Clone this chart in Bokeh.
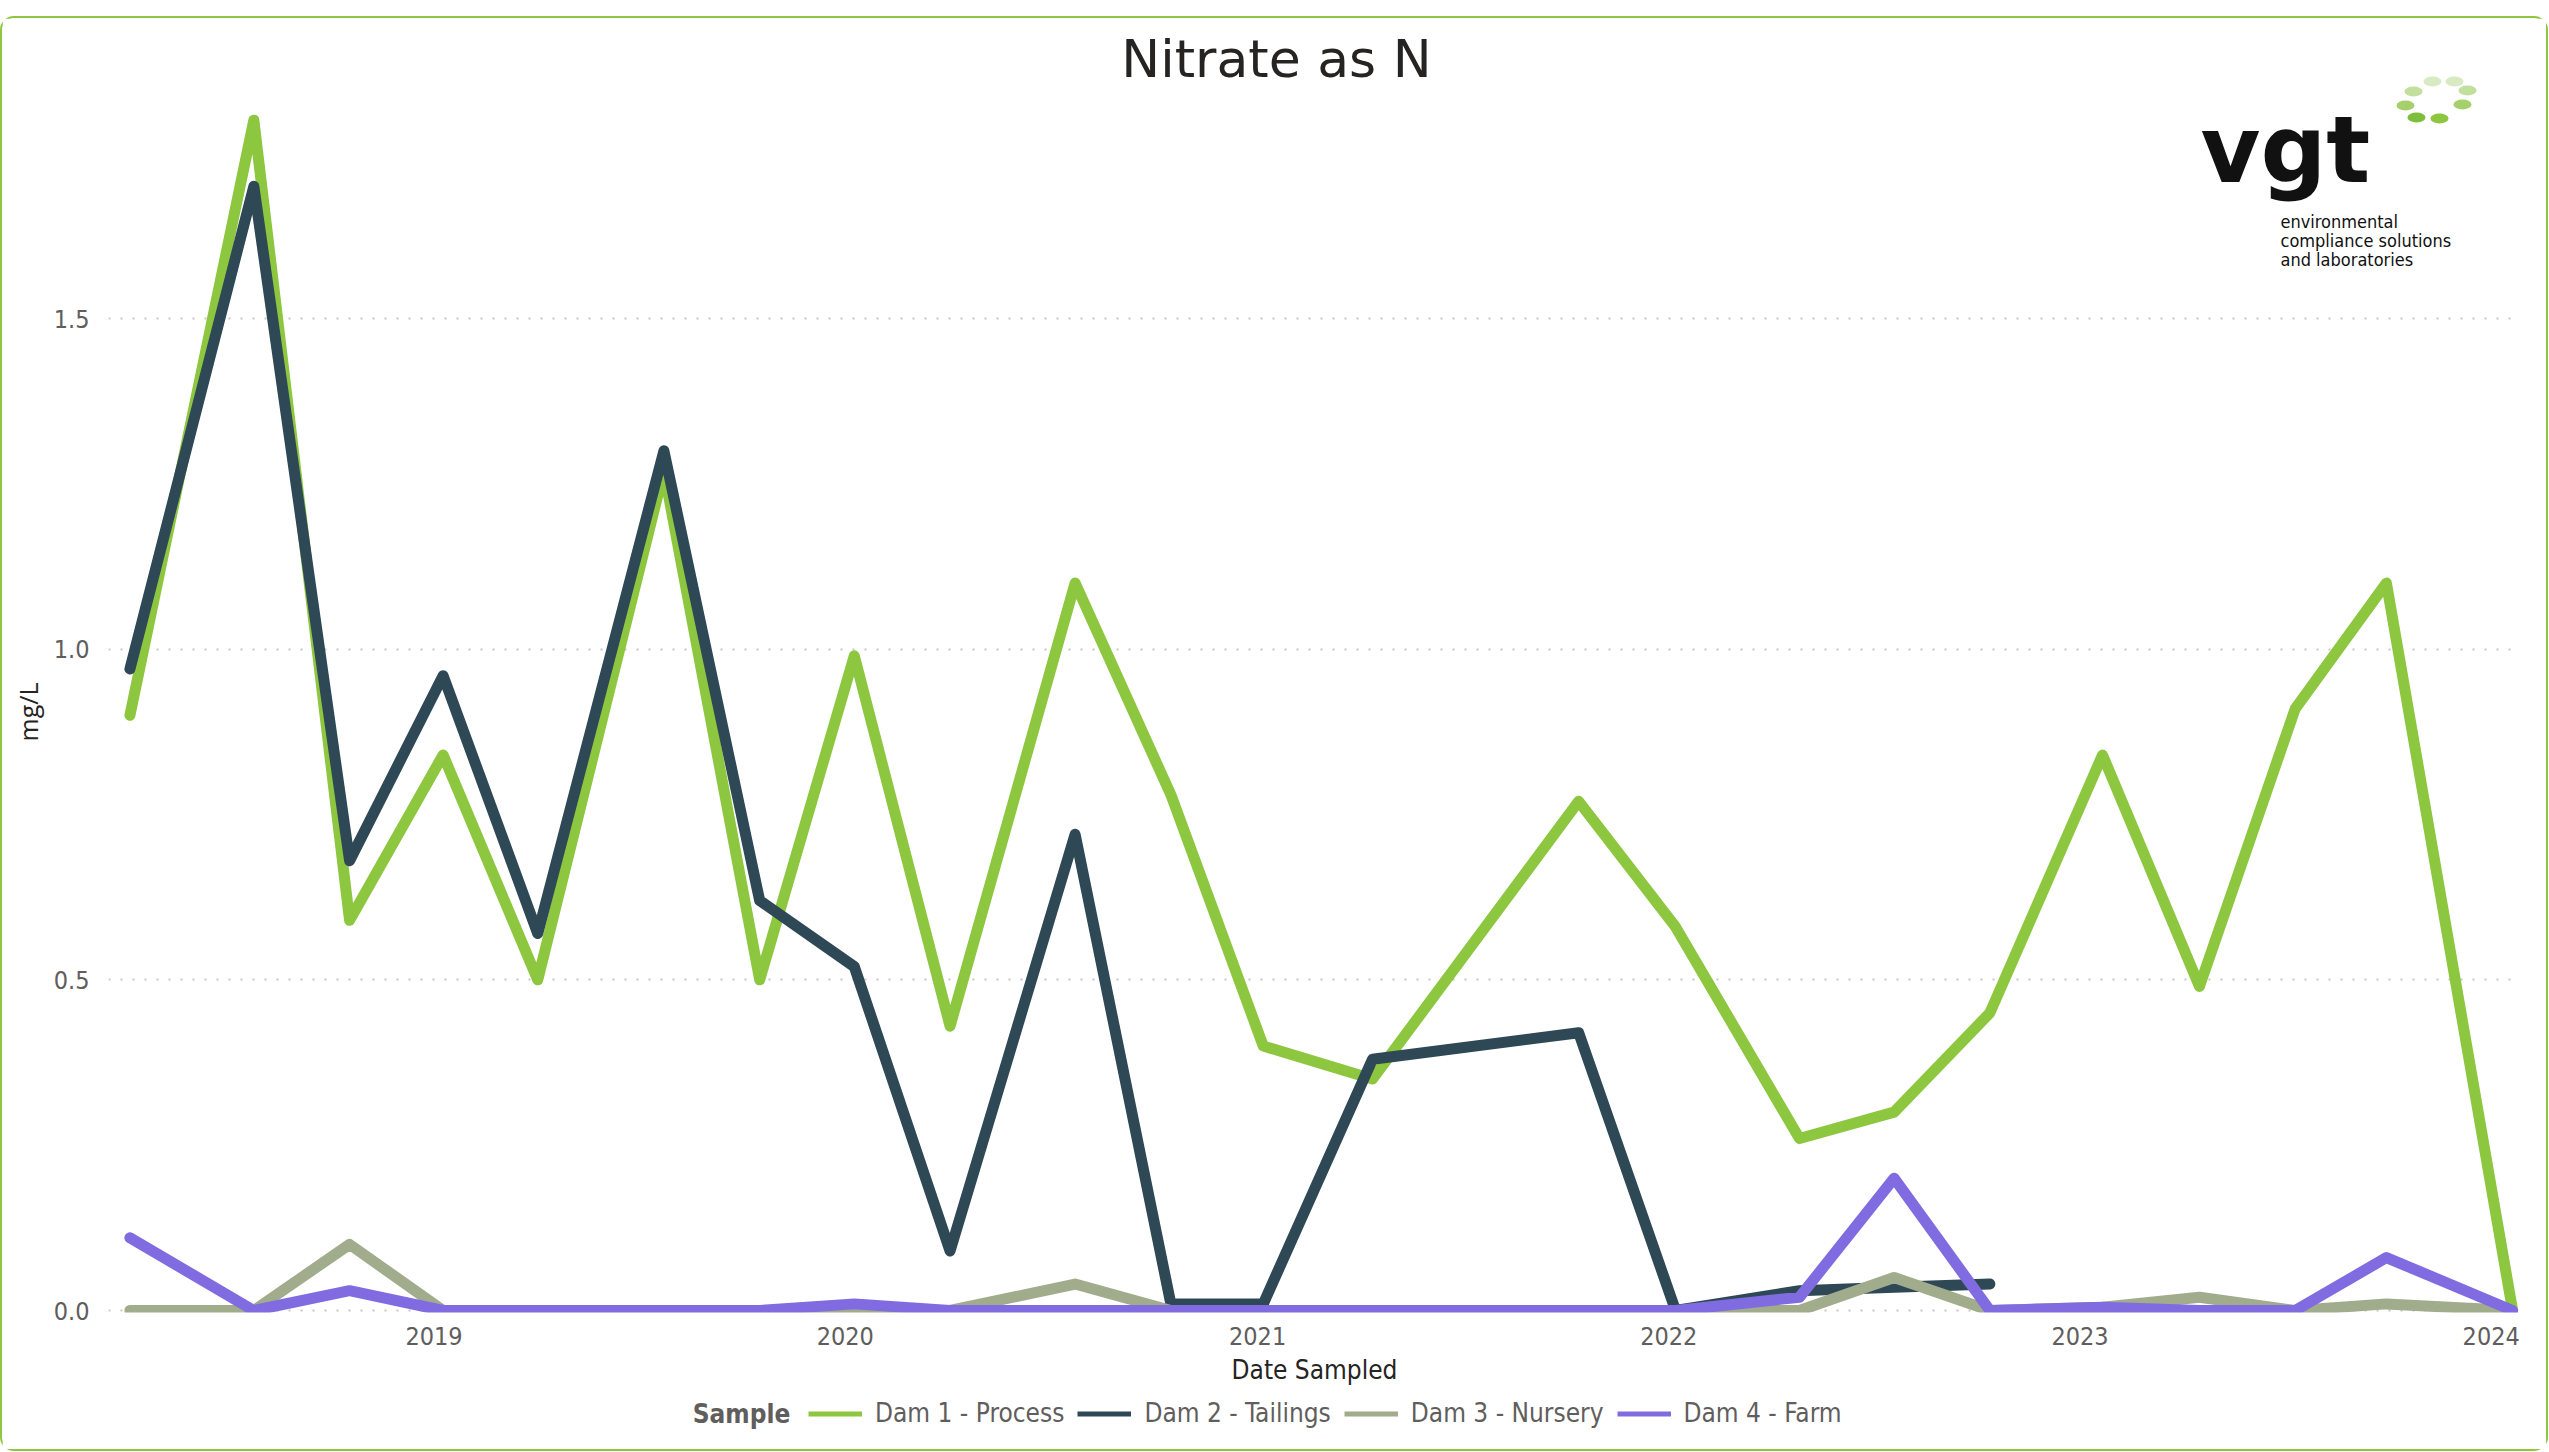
import numpy as np
import pandas as pd
from bokeh.plotting import figure
from bokeh.models import (Range1d, FixedTicker, DatetimeTickFormatter, NumeralTickFormatter,
                          Legend, LegendItem, Label, Title, ColumnDataSource)
from bokeh.embed import file_html
from bokeh.resources import INLINE

# ---------------- data ----------------
dates = ["2018-04-06", "2018-07-25", "2018-10-18", "2019-01-09", "2019-04-03", "2019-07-24",
         "2019-10-17", "2020-01-09", "2020-04-03", "2020-07-23", "2020-10-16", "2021-01-06",
         "2021-04-13", "2021-10-13", "2022-01-07", "2022-04-27", "2022-07-20", "2022-10-13",
         "2023-01-21", "2023-04-17", "2023-07-11", "2023-09-30", "2024-01-20"]
dam1_process = [0.90, 1.80, 0.59, 0.84, 0.50, 1.27, 0.50, 0.99, 0.43, 1.10, 0.78, 0.40,
                0.35, 0.77, 0.58, 0.26, 0.30, 0.45, 0.84, 0.49, 0.91, 1.10, 0.0]
dam2_tailings = [0.97, 1.70, 0.68, 0.96, 0.57, 1.30, 0.62, 0.52, 0.09, 0.72, 0.01, 0.01,
                 0.38, 0.42, 0.0, 0.03, 0.035, 0.04, None, None, None, None, None]
dam3_nursery = [0.0, 0.0, 0.10, 0.0, 0.0, 0.0, 0.0, 0.0, 0.0, 0.04, 0.0, 0.0,
                0.0, 0.0, 0.0, 0.0, 0.05, 0.0, 0.005, 0.02, 0.0, 0.01, 0.0]
dam4_farm = [0.11, 0.0, 0.03, 0.0, 0.0, 0.0, 0.0, 0.01, 0.0, 0.0, 0.0, 0.0,
             0.0, 0.0, 0.0, 0.02, 0.20, 0.0, 0.005, 0.0, 0.0, 0.08, 0.0]
series_names = ["Dam 1 - Process", "Dam 2 - Tailings", "Dam 3 - Nursery", "Dam 4 - Farm"]
legend_title = "Sample"
year_ticks = [2019, 2020, 2021, 2022, 2023, 2024]
y_ticks = [0.0, 0.5, 1.0, 1.5]

# ---------------- style ----------------
colors = ["#8DC63F", "#2E4856", "#A0AC8C", "#806CE0"]
NARROW = "DejaVu Sans Condensed, Roboto, sans-serif"
TXT = "#605E5C"
DARK = "#252423"

x = pd.to_datetime(dates)
series = [dam1_process, dam2_tailings, dam3_nursery, dam4_farm]

# page geometry: 16px top margin, 2px css border -> canvas starts at page (2, 18)
MT = 16
OX, OY = 2, MT + 2
W, H = 2544, 1431
FL, FR, FT, FB = 108, 2520, 22, OY + H      # frame edges on the page (frame runs to canvas bottom)
AXIS_PY = 1312                               # where the x axis (plot floor) sits on the page
ZERO_PY, PX_PER_UNIT = 1310, 661.3
X0, X1 = pd.Timestamp("2018-03-18"), pd.Timestamp("2024-01-27")
Y0 = (ZERO_PY - FB) / PX_PER_UNIT
Y1 = (ZERO_PY - FT) / PX_PER_UNIT
Y_FLOOR = (ZERO_PY - AXIS_PY) / PX_PER_UNIT

p = figure(frame_width=FR - FL, frame_height=FB - FT, x_axis_type="datetime",
           output_backend="svg", toolbar_location=None,
           x_range=Range1d(X0, X1), y_range=Range1d(Y0, Y1),
           min_border_left=FL - OX, min_border_right=OX + W - FR,
           min_border_top=FT - OY, min_border_bottom=0)
p.outline_line_color = None
p.background_fill_color = "white"
p.border_fill_color = "white"
p.styles = {"border": "2px solid #8DC63F", "border-radius": "14px", "margin-top": f"{MT}px"}

x0ms, x1ms = X0.value / 1e6, X1.value / 1e6


def px2x(px):
    return x0ms + (px - FL) / (FR - FL) * (x1ms - x0ms)


def py2y(py):
    return Y0 + (FB - py) / (FB - FT) * (Y1 - Y0)


# title
p.add_layout(Label(x=px2x(1276), y=py2y(58), text="Nitrate as N", text_align="center",
                   text_baseline="middle", text_font="DejaVu Sans", text_font_size="52px",
                   text_color=DARK))

# axes
p.xaxis.ticker = FixedTicker(ticks=[pd.Timestamp(f"{yr}-01-01").value // 10**6 for yr in year_ticks])
p.xaxis.formatter = DatetimeTickFormatter(years="%Y", months="%Y", days="%Y", hours="%Y",
                                          minutes="%Y", seconds="%Y", milliseconds="%Y")
p.xaxis.fixed_location = Y_FLOOR
p.yaxis.ticker = FixedTicker(ticks=y_ticks)
p.yaxis.formatter = NumeralTickFormatter(format="0.0")
for ax in (p.xaxis[0], p.yaxis[0]):
    ax.axis_line_color = None
    ax.major_tick_line_color = None
    ax.minor_tick_line_color = None
    ax.major_label_text_font = NARROW
    ax.major_label_text_font_size = "25px"
    ax.major_label_text_color = TXT
    ax.axis_label_text_font_style = "normal"
    ax.axis_label_text_color = DARK
p.xaxis.axis_label = "Date Sampled"
p.xaxis.axis_label_text_font = NARROW
p.xaxis.axis_label_text_font_size = "26px"
p.xaxis.major_label_standoff = 8
p.xaxis.axis_label_standoff = 7
p.yaxis.major_label_standoff = 13

# y axis title as a left-side title so it can sit where the reference has it
p.add_layout(Title(text="mg/L", align="left", offset=FB - 741, standoff=12,
                   text_font="Open Sans", text_font_size="25px", text_font_style="normal",
                   text_color=DARK), "left")

p.xgrid.visible = False
p.ygrid.grid_line_color = "#C8C6C4"
p.ygrid.grid_line_width = 2
p.ygrid.grid_line_dash = "2 10"

# lines
for ys, c in zip(series, colors):
    yv = np.array([np.nan if v is None else v for v in ys], dtype=float)
    p.line(x, yv, line_color=c, line_width=11, line_join="round", line_cap="round")

# plot floor: hide what falls below the x axis, like the reference's clipped plot area
p.quad(left=[X0], right=[X1], bottom=[Y0], top=[Y_FLOOR], fill_color="white", line_color=None)

# legend (thin sample lines, drawn by renderers that plot nothing)
items = []
for name, c in zip(series_names, colors):
    r = p.line(x=[x[0], x[0]], y=[np.nan, np.nan], line_color=c, line_width=5)
    items.append(LegendItem(label=name, renderers=[r]))
legend = Legend(items=items, orientation="horizontal", location=(808 - FL, FB - 1428),
                label_text_font=NARROW, label_text_font_size="26px", label_text_color=TXT,
                glyph_width=54, glyph_height=25, label_height=25, label_standoff=13, spacing=13,
                padding=0, margin=0, border_line_color=None, background_fill_alpha=0)
p.add_layout(legend, "center")
p.add_layout(Label(x=px2x(741), y=py2y(1413), text=legend_title,
                   text_align="center", text_baseline="middle", text_font=NARROW,
                   text_font_size="26px", text_font_style="bold", text_color=TXT))

# logo
p.add_layout(Label(x=px2x(2200), y=py2y(150), text="vgt",
                   text_align="left", text_baseline="middle", text_font="DejaVu Sans",
                   text_font_size="92px", text_font_style="bold", text_color="#111111"))
for i, t in enumerate(["environmental", "compliance solutions", "and laboratories"]):
    p.add_layout(Label(x=px2x(2280), y=py2y(221 + 19 * i), text=t,
                       text_align="left", text_baseline="middle", text_font=NARROW,
                       text_font_size="18px", text_color="#111111"))
dot_px = [2405, 2416, 2439, 2462, 2467, 2454, 2432, 2413]
dot_py = [105, 117, 118, 104, 90, 81, 81, 91]
dot_col = ["#A5D06B", "#7DBE3C", "#8DC63F", "#A5D06B", "#C2DF9D", "#D8EAC2", "#D8EAC2", "#C2DF9D"]
dots = ColumnDataSource(dict(x=[px2x(v) for v in dot_px], y=[py2y(v) for v in dot_py], c=dot_col))
p.ellipse(x="x", y="y", width=18, height=10, width_units="screen", height_units="screen",
          fill_color="c", line_color=None, source=dots)

open("out.html", "w").write(file_html(p, INLINE))
